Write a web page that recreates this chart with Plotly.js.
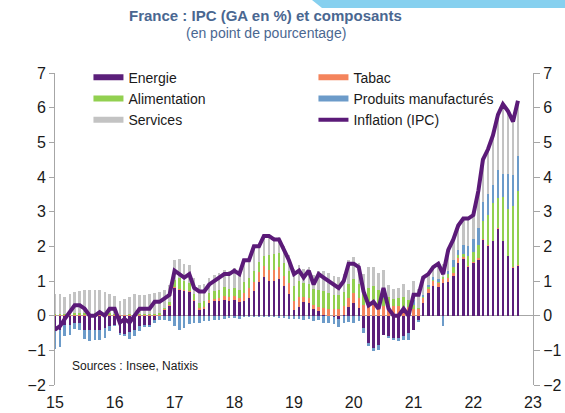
<!DOCTYPE html>
<html><head><meta charset="utf-8">
<script src="https://cdn.plot.ly/plotly-3.0.1.min.js"></script>
<style>html,body{margin:0;padding:0;background:#fff}#chart{width:565px;height:413px}</style>
</head><body><div id="chart"></div>
<script>
// Monthly data, Jan 2015 .. Oct 2022 (contributions in percentage points)
const startYear = 2015, nMonths = 94;
const yearTicks = ['2015-01-01','2016-01-01','2017-01-01','2018-01-01','2019-01-01','2020-01-01','2021-01-01','2022-01-01','2023-01-01'];
const yearLabels = ['15','16','17','18','19','20','21','22','23'];
const seriesNames = ['Energie','Tabac','Alimentation','Produits manufacturés','Services'];

const inflation = [
 -0.4,-0.3,-0.1,0.1,0.3,0.3,0.2,0.0,0.0,0.1,0.0,0.2,
 0.2,-0.2,-0.1,-0.2,0.0,0.2,0.2,0.2,0.4,0.4,0.5,0.6,
 1.3,1.2,1.1,1.2,0.8,0.7,0.7,0.9,1.0,1.1,1.2,1.2,
 1.3,1.2,1.6,1.6,2.0,2.0,2.3,2.3,2.2,2.2,1.9,1.6,
 1.2,1.3,1.1,1.3,0.9,1.2,1.1,1.0,0.9,0.8,1.0,1.5,
 1.5,1.4,0.7,0.3,0.4,0.2,0.8,0.2,0.0,0.0,0.2,0.0,
 0.6,0.6,1.1,1.2,1.4,1.5,1.2,1.9,2.2,2.6,2.8,2.8,
 2.9,3.6,4.5,4.8,5.2,5.8,6.1,5.9,5.6,6.2];

const energie = [
 -0.45,-0.40,-0.26,-0.26,-0.21,-0.21,-0.40,-0.42,-0.42,-0.40,-0.36,-0.31,
 -0.26,-0.50,-0.52,-0.48,-0.42,-0.31,-0.26,-0.26,-0.12,-0.02,0.17,0.29,
 0.80,0.75,0.72,0.68,0.41,0.17,0.19,0.37,0.41,0.41,0.46,0.41,
 0.44,0.38,0.41,0.51,0.70,0.96,1.12,1.01,1.01,1.07,0.85,0.63,
 0.17,0.25,0.38,0.36,0.19,0.13,0.03,-0.02,-0.05,-0.10,0.02,0.25,
 0.37,0.22,-0.36,-0.79,-0.93,-0.84,-0.55,-0.60,-0.64,-0.64,-0.60,-0.50,
 -0.40,-0.12,0.37,0.65,0.87,0.83,0.94,0.96,1.15,1.52,1.63,1.39,
 1.52,1.62,2.19,2.02,2.14,2.50,2.14,1.71,1.37,1.44];

const tabac = [
 0.02,0.02,0.02,0.02,0.02,0.02,0.02,0.02,0.02,0.02,0.02,0.02,
 0.01,0.01,0.01,0.01,0.01,0.01,0.01,0.01,0.01,0.01,0.01,0.01,
 0.03,0.03,0.03,0.04,0.04,0.04,0.05,0.08,0.08,0.10,0.12,0.12,
 0.12,0.12,0.25,0.28,0.28,0.30,0.31,0.32,0.32,0.33,0.30,0.32,
 0.24,0.30,0.15,0.15,0.13,0.12,0.20,0.20,0.18,0.20,0.25,0.27,
 0.29,0.29,0.30,0.30,0.30,0.28,0.28,0.28,0.28,0.27,0.25,0.25,
 0.20,0.18,0.15,0.13,0.12,0.10,0.13,0.13,0.08,0.13,0.05,0.05,
 0.03,0.03,0.02,0.02,0.02,0.02,0.02,0.02,0.02,0.02];

const alimentation = [
 0.03,0.03,0.03,0.04,0.05,0.05,0.05,0.04,0.05,0.05,0.05,0.05,
 0.04,0.02,0.02,0.03,0.03,0.05,0.05,0.05,0.05,0.06,0.05,0.08,
 0.20,0.30,0.25,0.22,0.18,0.15,0.18,0.20,0.22,0.22,0.24,0.25,
 0.25,0.25,0.30,0.30,0.30,0.28,0.30,0.42,0.45,0.40,0.38,0.35,
 0.45,0.45,0.42,0.40,0.45,0.48,0.48,0.45,0.42,0.40,0.42,0.38,
 0.40,0.40,0.38,0.50,0.55,0.45,0.22,0.25,0.20,0.25,0.30,0.20,
 0.10,0.05,0.03,0.05,0.05,0.05,0.05,0.10,0.18,0.10,0.10,0.27,
 0.30,0.38,0.53,0.85,1.10,0.87,1.25,1.35,1.78,2.13];

const produits = [
 -0.50,-0.50,-0.34,-0.29,-0.17,-0.19,-0.27,-0.32,-0.29,-0.31,-0.29,-0.14,
 -0.05,-0.05,-0.06,-0.19,-0.17,-0.14,-0.08,-0.08,-0.10,-0.10,-0.12,-0.15,
 -0.30,-0.42,-0.35,-0.25,-0.20,-0.20,-0.16,-0.14,-0.12,-0.12,-0.10,-0.08,
 -0.08,-0.10,-0.05,-0.05,-0.05,-0.03,-0.03,-0.03,-0.05,-0.06,-0.08,-0.10,
 -0.10,-0.10,-0.12,-0.10,-0.15,-0.12,-0.20,-0.20,-0.20,-0.22,-0.20,-0.18,
 -0.20,-0.15,-0.14,-0.08,-0.10,-0.14,0.12,-0.05,-0.05,-0.09,-0.10,-0.20,
 0.15,-0.05,0.05,0.05,0.08,0.08,-0.29,0.10,0.20,0.13,0.27,0.30,
 0.35,0.50,0.53,0.62,0.50,0.80,0.68,1.00,0.89,1.03];

const services = [
 0.58,0.58,0.48,0.57,0.61,0.63,0.67,0.69,0.68,0.68,0.61,0.56,
 0.51,0.38,0.45,0.50,0.59,0.53,0.53,0.57,0.59,0.61,0.52,0.50,
 0.57,0.56,0.48,0.51,0.45,0.52,0.48,0.45,0.46,0.50,0.50,0.52,
 0.57,0.55,0.62,0.58,0.70,0.52,0.60,0.58,0.50,0.48,0.47,0.45,
 0.50,0.45,0.40,0.50,0.40,0.55,0.59,0.57,0.55,0.52,0.51,0.70,
 0.64,0.62,0.52,0.60,0.55,0.50,0.70,0.35,0.30,0.28,0.35,0.30,
 0.55,0.54,0.50,0.35,0.30,0.44,0.37,0.61,0.59,0.72,0.75,0.79,
 0.70,1.07,1.23,1.29,1.44,1.61,2.01,1.82,1.54,1.58];

const colors = ['#5b1f7a','#f4845c','#92d050','#6c9bc9','#c3c3c3'];
const lineColor = '#5b1a78';

const dates = [];
for (let i = 0; i < nMonths; i++) {
  const y = startYear + Math.floor(i / 12), m = (i % 12) + 1;
  dates.push(y + '-' + (m < 10 ? '0' + m : m) + '-01');
}

const barSeries = [energie, tabac, alimentation, produits, services];
const traces = [];
barSeries.forEach((vals, k) => {
  traces.push({type:'bar', x:dates, y:vals, name:seriesNames[k], marker:{color:colors[k], line:{width:0}},
    width: 15*86400000, showlegend:false, hoverinfo:'skip'});
});
// legend entries drawn as thick line swatches
seriesNames.forEach((n, k) => {
  traces.push({type:'scatter', mode:'lines', x:[null], y:[null], name:n, line:{color:colors[k], width:6}, showlegend:true});
});
traces.push({type:'scatter', mode:'lines', x:dates, y:inflation, name:'Inflation (IPC)', yaxis:'y2',
  line:{color:lineColor, width:4}, showlegend:true});

const font = 'Liberation Sans, Arial, sans-serif';
const layout = {
  width:565, height:413,
  margin:{l:55, r:32, t:73, b:28},
  paper_bgcolor:'#fff', plot_bgcolor:'#fff',
  barmode:'relative', bargap:0,
  showlegend:true,
  legend:{orientation:'h', x:0.07, xanchor:'left', y:1.036, yanchor:'top', entrywidth:180,
    font:{family:font, size:14, color:'#1a1a1a'}, bgcolor:'rgba(0,0,0,0)', tracegroupgap:0, traceorder:'normal'},
  xaxis:{type:'date', range:['2015-01-01','2023-01-01'], tickvals:yearTicks, ticktext:yearLabels,
    showgrid:false, zeroline:false, showline:false, ticks:'', ticklabelstandoff:6,
    tickfont:{family:font, size:16, color:'#1a1a1a'}},
  yaxis:{range:[-2,7], dtick:1, showgrid:false, zeroline:true, zerolinecolor:'#a6a6a6', zerolinewidth:1.5,
    showline:true, linecolor:'#a6a6a6', linewidth:1, ticks:'outside', ticklen:5, tickcolor:'#a6a6a6',
    tickfont:{family:font, size:16, color:'#1a1a1a'}},
  yaxis2:{overlaying:'y', side:'right', range:[-2,7], dtick:1, showgrid:false, zeroline:false,
    showline:true, linecolor:'#a6a6a6', linewidth:1, ticks:'outside', ticklen:6, tickcolor:'#a6a6a6',
    tickfont:{family:font, size:16, color:'#1a1a1a'}},
  annotations:[
    {text:'<b>France : IPC (GA en %) et composants</b>', xref:'paper', yref:'paper', x:0.441, y:(385-16)/312, xanchor:'center', yanchor:'middle', showarrow:false,
      font:{family:font, size:15, color:'#4a6791'}},
    {text:'(en point de pourcentage)', xref:'paper', yref:'paper', x:0.441, y:(385-33)/312, xanchor:'center', yanchor:'middle', showarrow:false,
      font:{family:font, size:14, color:'#4a6791'}},
    {text:'Sources : Insee, Natixis', xref:'paper', yref:'paper', x:(70-55)/478, y:(385-366)/312, xanchor:'left', yanchor:'middle', showarrow:false,
      font:{family:font, size:12, color:'#1a1a1a'}}
  ],
  shapes:[
    {type:'path', xref:'paper', yref:'paper', layer:'above',
      path:'M '+((312-55)/478)+' '+(385/312)+' L '+((565-55)/478)+' '+(385/312)+' L '+((565-55)/478)+' '+(377/312)+' L '+((322-55)/478)+' '+(377/312)+' Z',
      fillcolor:'#86d0ef', line:{width:0}}
  ]
};
Plotly.newPlot('chart', traces, layout, {displayModeBar:false, staticPlot:true});
</script></body></html>
